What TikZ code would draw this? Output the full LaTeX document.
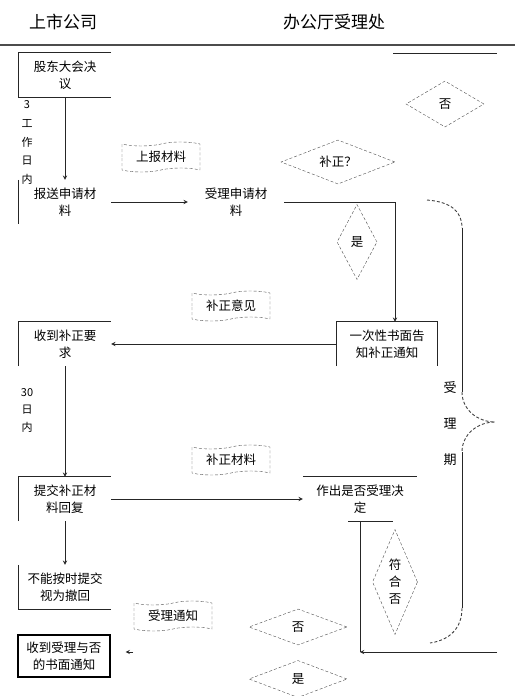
\documentclass[tikz,border=0pt]{standalone}
\usepackage{fontspec}
\setmainfont{Noto Sans CJK SC}
\usetikzlibrary{shapes.geometric,shapes.symbols}

\tikzset{
  txt/.style={align=center,inner sep=0pt,font=\fontsize{12.5}{17}\selectfont},
  stagebox/.style={txt,minimum width=92pt,minimum height=44pt},
  edgeline/.style={line width=1pt,black!85},
  flowline/.style={->,line width=0.9pt,black!85},
  docnote/.style={txt,tape,draw=black!70,densely dashed,minimum width=78pt,minimum height=30pt,tape bend height=4pt},
  choice/.style={txt,diamond,draw=black!70,densely dashed},
}

\begin{document}
\begin{tikzpicture}[x=1pt,y=-1pt,>=stealth]
\useasboundingbox (0,0) rectangle (515,696);
% header
\node[font=\fontsize{17}{20}\selectfont] (colcorp) at (63,22) {上市公司};
\node[font=\fontsize{17}{20}\selectfont] (coloffice) at (334,22) {办公厅受理处};
\draw[line width=1.6pt,black!70] (0,45) -- (515,45);
\draw[edgeline] (393,53) -- (497,53);

% left column
\node[stagebox] (resolve) at (65,75) {股东大会决\\议};
\node[stagebox] (submit) at (65,202) {报送申请材\\料};
\node[stagebox] (getnote) at (65,344) {收到补正要\\求};
\node[stagebox] (resend) at (65,499) {提交补正材\\料回复};
\node[stagebox] (withdraw) at (65,587) {不能按时提交\\视为撤回};
\node[stagebox,draw,line width=1.2pt,minimum height=42pt] (notice) at (64,656) {收到受理与否\\的书面通知};
\node[txt,font=\fontsize{11}{18.7}\selectfont] (days1) at (27,142.5) {3\\工\\作\\日\\内};
\node[txt,font=\fontsize{11}{17.5}\selectfont] (days2) at (27,410) {30\\日\\内};

% right column
\node[stagebox,minimum width=96pt] (accept) at (236,202) {受理申请材\\料};
\node[stagebox,minimum width=101pt] (askfix) at (387,344) {一次性书面告\\知补正通知};
\node[stagebox,minimum width=114pt] (decide) at (360,499) {作出是否受理决\\定};
\node[txt,font=\fontsize{13}{36}\selectfont] (period) at (450,424) {受\\理\\期};

% documents
\node[docnote] (docsend) at (161,157) {上报材料};
\node[docnote] (docfix) at (231,306) {补正意见};
\node[docnote] (docreply) at (231,460) {补正材料};
\node[docnote] (docnotice) at (173,616) {受理通知};

% decisions
\node[choice,minimum width=78pt,minimum height=46pt] (qno) at (445,104) {否};
\node[choice,aspect=2.6,minimum width=114pt,minimum height=44pt] (qfix) at (338,162) {补正？};
\node[choice,aspect=0.53,minimum width=40pt,minimum height=75pt] (qyes) at (357,242) {是};
\node[choice,aspect=0.43,minimum width=45pt,minimum height=105pt,font=\fontsize{12.5}{17}\selectfont] (qmatch) at (395,582) {符\\合\\否};
\node[choice,minimum width=98pt,minimum height=36pt] (qno2) at (298,627) {否};
\node[choice,minimum width=98pt,minimum height=37pt] (qyes2) at (298,679) {是};

% box edges
\draw[edgeline] (resolve.north east) -- (resolve.north west) -- (resolve.south west) -- (resolve.south east);
\draw[edgeline] (submit.north west) -- (submit.south west);
\draw[edgeline] (getnote.south west) -- (getnote.north west) -- (getnote.north east);
\draw[edgeline] (resend.south west) -- (resend.north west) -- (resend.north east);
\draw[edgeline] (withdraw.north west) -- (withdraw.south west) -- (withdraw.south east);
\draw[edgeline] (askfix.south west) -- (askfix.north west) -- (askfix.north east) -- (askfix.south east);
\draw[edgeline] (decide.north west) -- (decide.north east);
\draw[edgeline] ([xshift=-12pt]decide.south) -- ([xshift=33pt]decide.south);

% brace
\draw[line width=0.9pt,black!85] (462,228) -- (462,392);
\draw[line width=0.9pt,black!85] (462,452) -- (462,608);
\draw[line width=0.9pt,black!75,densely dashed] (427,200) .. controls (452,202) and (462,212) .. (462,228);
\draw[line width=0.9pt,black!75,densely dashed] (462,392) .. controls (462,410) and (478,422) .. (495,422) .. controls (478,422) and (462,434) .. (462,452);
\draw[line width=0.9pt,black!75,densely dashed] (462,608) .. controls (462,628) and (450,640) .. (430,643);

% connectors
\coordinate (gcorner) at (360,652);
\coordinate (gfeed) at (497,652);
\coordinate (nstub) at (133,652);
\draw[flowline] (resolve.south) -- (submit.north);
\draw[flowline] (submit.east) -- (accept.west);
\draw[flowline] (accept.east) -| ([xshift=8pt]askfix.north);
\draw[flowline] (askfix.west) -- (getnote.east);
\draw[flowline] (getnote.south) -- (resend.north);
\draw[flowline] (resend.east) -- (decide.west);
\draw[flowline] (resend.south) -- (withdraw.north);
\draw[edgeline] (decide.south) -- (gcorner);
\draw[flowline] (gfeed) -- (gcorner);
\draw[flowline,shorten >=15pt] (nstub) -- (notice.east |- nstub);
\end{tikzpicture}
\end{document}
